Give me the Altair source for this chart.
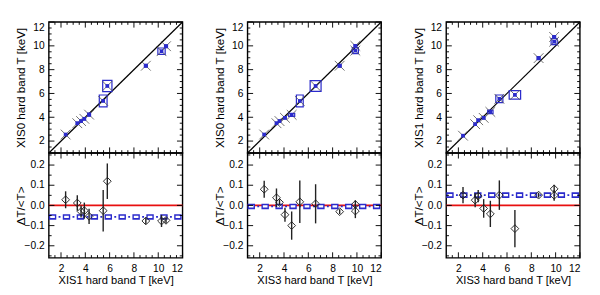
import altair as alt
import pandas as pd

BLUE = "#2b2bcc"
RED = "#e81010"
FONT = "Liberation Sans"

# ---------------- data ----------------
# Panel 1: XIS1 (x) vs XIS0 (y)
p1_x = [2.38, 3.34, 3.65, 3.92, 4.31, 5.47, 5.81, 8.98, 10.27, 10.64]
p1_y = [2.55, 3.50, 3.68, 3.87, 4.22, 5.37, 6.63, 8.33, 9.55, 9.97]
p1_xerr = [0.06, 0.07, 0.08, 0.09, 0.12, 0.32, 0.38, 0.12, 0.30, 0.12]
p1_yerr = [0.06, 0.07, 0.08, 0.09, 0.12, 0.50, 0.47, 0.12, 0.27, 0.12]
p1_d = [0.028, 0.012, -0.030, -0.026, -0.054, -0.026, 0.120, -0.077, -0.077, -0.074]
p1_derr = [0.042, 0.038, 0.030, 0.040, 0.038, 0.103, 0.088, 0.015, 0.030, 0.014]
p1_mean, p1_merr = -0.057, 0.008

# Panel 2: XIS3 (x) vs XIS0 (y)
p2_x = [2.37, 3.38, 3.63, 4.08, 4.63, 5.30, 6.60, 8.58, 9.87, 9.87]
p2_y = [2.55, 3.50, 3.68, 3.95, 4.20, 5.37, 6.63, 8.33, 10.00, 9.60]
p2_xerr = [0.06, 0.07, 0.08, 0.09, 0.25, 0.28, 0.45, 0.12, 0.10, 0.25]
p2_yerr = [0.06, 0.07, 0.08, 0.09, 0.12, 0.50, 0.45, 0.12, 0.10, 0.25]
p2_d = [0.080, 0.038, 0.015, -0.046, -0.100, 0.018, 0.008, -0.031, 0.005, -0.028]
p2_derr = [0.042, 0.046, 0.015, 0.035, 0.070, 0.105, 0.097, 0.012, 0.020, 0.035]
p2_mean, p2_merr = -0.005, 0.008

# Panel 3: XIS3 (x) vs XIS1 (y)
p3_x = [2.38, 3.38, 3.63, 4.08, 4.63, 5.37, 6.65, 8.60, 9.88, 9.88]
p3_y = [2.45, 3.42, 3.75, 3.95, 4.45, 5.55, 5.88, 8.97, 10.75, 10.35]
p3_xerr = [0.06, 0.07, 0.08, 0.09, 0.22, 0.29, 0.47, 0.12, 0.12, 0.25]
p3_yerr = [0.06, 0.07, 0.08, 0.09, 0.15, 0.32, 0.36, 0.12, 0.12, 0.25]
p3_d = [0.051, 0.026, 0.046, -0.015, -0.042, 0.051, -0.115, 0.051, 0.082, 0.050]
p3_derr = [0.040, 0.035, 0.030, 0.046, 0.065, 0.073, 0.092, 0.012, 0.020, 0.027]
p3_mean, p3_merr = 0.051, 0.008

x_titles = ["XIS1 hard band T [keV]", "XIS3 hard band T [keV]", "XIS3 hard band T [keV]"]
y_titles = ["XIS0 hard band T [keV]", "XIS0 hard band T [keV]", "XIS1 hard band T [keV]"]
d_title = "ΔT/<T>"

T_domain = [1, 12]
D_domain = [-0.26, 0.26]
T_major = [2, 4, 6, 8, 10, 12]
T_minor = [1.5, 2.5, 3, 3.5, 4.5, 5, 5.5, 6.5, 7, 7.5, 8.5, 9, 9.5, 10.5, 11, 11.5]
D_major = [-0.2, -0.1, 0.0, 0.1, 0.2]
D_minor = [-0.25, -0.15, -0.05, 0.05, 0.15, 0.25]
ident = [1, 12]

W, HT, HB = 144, 141, 113


def frame_ticks(X, Y, xmaj, xmin_, ymaj, ymin_, H):
    layers = []
    for vals, L in [(xmaj, 6), (xmin_, 3)]:
        c = alt.Chart(pd.DataFrame({"t": vals})).mark_rule(color="black", strokeWidth=1)
        layers.append(c.encode(x=X("t:Q"), y=alt.value(H), y2=alt.value(H - L)))
        layers.append(c.encode(x=X("t:Q"), y=alt.value(0), y2=alt.value(L)))
    for vals, L in [(ymaj, 6), (ymin_, 3)]:
        c = alt.Chart(pd.DataFrame({"t": vals})).mark_rule(color="black", strokeWidth=1)
        layers.append(c.encode(y=Y("t:Q"), x=alt.value(0), x2=alt.value(L)))
        layers.append(c.encode(y=Y("t:Q"), x=alt.value(W), x2=alt.value(W - L)))
    return layers


def top_chart(xs, ys, xe, ye, ytitle):
    df = pd.DataFrame({"x": xs, "y": ys, "xe": xe, "ye": ye})
    df["x0"] = df.x - df.xe
    df["x1"] = df.x + df.xe
    df["y0"] = df.y - df.ye
    df["y1"] = df.y + df.ye
    xsc = alt.Scale(domain=T_domain, nice=False, zero=False)
    ysc = alt.Scale(domain=T_domain, nice=False, zero=False)
    yax = alt.Axis(values=T_major, title=ytitle, domain=False, ticks=False, grid=False,
                   labelPadding=5, titlePadding=3, minExtent=20, maxExtent=20,
                   labelOverlap=False, labelFlush=True)
    X = lambda f: alt.X(f, scale=xsc, axis=None)
    Y = lambda f: alt.Y(f, scale=ysc, axis=yax)
    base = alt.Chart(df)
    line = alt.Chart(pd.DataFrame({"v": ident})).mark_line(color="black", strokeWidth=1.3).encode(
        x=X("v:Q"), y=Y("v:Q"))
    boxes = base.mark_rect(fillOpacity=0, stroke=BLUE, strokeWidth=1.3).encode(
        x=X("x0:Q"), x2="x1:Q", y=Y("y0:Q"), y2="y1:Q")
    crosses = base.mark_point(shape="M-1,-1L1,1M-1,1L1,-1", size=110, filled=False,
                              color="#555555", strokeWidth=0.9, opacity=1).encode(
        x=X("x:Q"), y=Y("y:Q"))
    stars = base.mark_point(shape="square", size=16, filled=True, color=BLUE, opacity=1).encode(
        x=X("x:Q"), y=Y("y:Q"))
    ticks = frame_ticks(X, Y, T_major, T_minor, T_major, T_minor, HT)
    return alt.layer(line, boxes, crosses, stars, *ticks).properties(width=W, height=HT)


def bottom_chart(xs, d, de, mean, merr, xtitle):
    df = pd.DataFrame({"x": xs, "d": d, "de": de})
    df["d0"] = df.d - df.de
    df["d1"] = df.d + df.de
    xsc = alt.Scale(domain=T_domain, nice=False, zero=False)
    ysc = alt.Scale(domain=D_domain, nice=False, zero=False)
    xax = alt.Axis(values=T_major, title=xtitle, domain=False, ticks=False, grid=False,
                   labelPadding=6, titlePadding=2, labelOverlap=False, format="d",
                   titleFontSize=12)
    yax = alt.Axis(values=D_major, title=d_title, domain=False, ticks=False, grid=False,
                   labelPadding=5, titlePadding=3, minExtent=20, maxExtent=20,
                   labelOverlap=False, labelFlush=False, format=".1f")
    X = lambda f: alt.X(f, scale=xsc, axis=xax)
    Y = lambda f: alt.Y(f, scale=ysc, axis=yax)
    base = alt.Chart(df)
    hl = pd.DataFrame({"v": ident, "z": [0.0, 0.0], "m": [mean, mean]})
    hb = alt.Chart(hl)
    red = hb.mark_line(color=RED, strokeWidth=2).encode(x=X("v:Q"), y=Y("z:Q"))
    band_out = hb.mark_line(color=BLUE, strokeWidth=6, strokeDash=[8, 7], strokeCap="butt").encode(
        x=X("v:Q"), y=Y("m:Q"))
    band_in = hb.mark_line(color="white", strokeWidth=2.4, strokeDash=[5, 10], strokeDashOffset=13.5,
                           strokeCap="butt").encode(x=X("v:Q"), y=Y("m:Q"))
    band_dot = hb.mark_line(color=BLUE, strokeWidth=2, strokeDash=[2, 13], strokeDashOffset=4.5,
                            strokeCap="butt").encode(x=X("v:Q"), y=Y("m:Q"))
    err = base.mark_rule(color="#222222", strokeWidth=1.5).encode(x=X("x:Q"), y=Y("d0:Q"), y2="d1:Q")
    dia = base.mark_point(shape="diamond", size=70, filled=False, color="#222222",
                          strokeWidth=1, opacity=1).encode(x=X("x:Q"), y=Y("d:Q"))
    ticks = frame_ticks(X, Y, T_major, T_minor, D_major, D_minor, HB)
    return alt.layer(red, band_out, band_in, band_dot, err, dia, *ticks).properties(width=W, height=HB)


panels = [
    (p1_x, p1_y, p1_xerr, p1_yerr, p1_d, p1_derr, p1_mean, p1_merr),
    (p2_x, p2_y, p2_xerr, p2_yerr, p2_d, p2_derr, p2_mean, p2_merr),
    (p3_x, p3_y, p3_xerr, p3_yerr, p3_d, p3_derr, p3_mean, p3_merr),
]

cols = []
for i, (xs, ys, xe, ye, d, de, m, me) in enumerate(panels):
    top = top_chart(xs, ys, xe, ye, y_titles[i])
    bot = bottom_chart(xs, d, de, m, me, x_titles[i])
    cols.append(alt.vconcat(top, bot, spacing=0, bounds="flush"))

chart = alt.hconcat(*cols, spacing=20).properties(
    padding={"left": 7, "top": 0, "right": 0, "bottom": 0}
).configure_view(stroke="black", strokeWidth=1.5).configure_axis(
    labelFont=FONT, titleFont=FONT, labelFontSize=11, titleFontSize=12.5,
    labelColor="black", titleColor="black", titleFontWeight="normal"
)

chart.save("out.html", embed_options={"renderer": "svg", "actions": False})
